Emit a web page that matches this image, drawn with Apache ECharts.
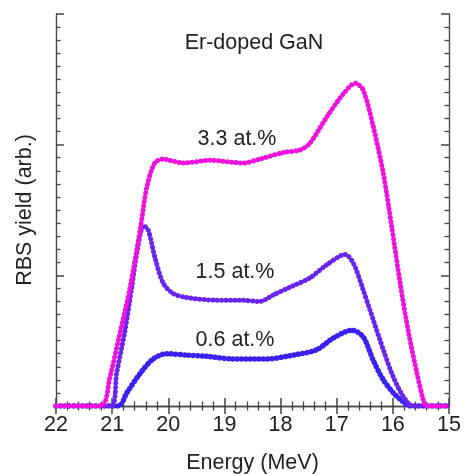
<!DOCTYPE html>
<html>
<head>
<meta charset="utf-8">
<script src="https://cdn.jsdelivr.net/npm/echarts@6/dist/echarts.min.js"></script>
<style>
  html, body { margin: 0; padding: 0; background: #fff; }
  #chart { width: 466px; height: 474px; }
</style>
</head>
<body>
<div id="chart"></div>
<script>
  // energy (MeV) / yield (arb.)
  const energy33 = [22, 21.2, 21.04, 20.86, 20.68, 20.5, 20.38, 20.24, 20.09, 19.97, 19.73, 19.26, 18.66, 18.37, 17.95, 17.65, 17.48, 17.18, 16.88, 16.67, 16.53, 16.35, 16.17, 16.02, 15.87, 15.72, 15.57, 15.46, 15.4, 15]
  const yield33 = [0, 0, 0.22, 0.56, 0.91, 1.35, 1.68, 1.86, 1.89, 1.88, 1.86, 1.88, 1.86, 1.89, 1.94, 1.96, 2.01, 2.21, 2.39, 2.47, 2.42, 2.14, 1.78, 1.37, 0.94, 0.56, 0.25, 0.05, 0, 0]

  const energy15 = [22, 21.02, 20.92, 20.77, 20.65, 20.56, 20.44, 20.36, 20.24, 20.09, 19.91, 19.67, 19.14, 18.72, 18.37, 18.13, 17.83, 17.48, 17.18, 16.85, 16.7, 16.53, 16.35, 16.17, 15.99, 15.81, 15.64, 15]
  const yield15 = [0, 0, 0.25, 0.58, 0.91, 1.17, 1.38, 1.35, 1.14, 0.94, 0.86, 0.83, 0.81, 0.81, 0.8, 0.85, 0.91, 0.98, 1.08, 1.16, 1.09, 0.89, 0.66, 0.43, 0.22, 0.07, 0, 0]

  const energy06 = [22, 20.89, 20.74, 20.5, 20.27, 20.03, 19.67, 19.32, 18.84, 18.25, 17.77, 17.36, 17.06, 16.73, 16.53, 16.35, 16.17, 15.99, 15.81, 15.7, 15]
  const yield06 = [0, 0, 0.1, 0.25, 0.36, 0.4, 0.39, 0.38, 0.36, 0.36, 0.39, 0.43, 0.52, 0.58, 0.53, 0.35, 0.2, 0.1, 0.03, 0, 0]

  const xTicks = [22, 21, 20, 19, 18, 17, 16, 15]

  const chart = echarts.init(document.getElementById('chart'))

  const pair = (xs, ys) => xs.map((x, i) => [x, ys[i]])

  const font = 'Liberation Sans'
  const frame = { lineStyle: { color: '#4a4a4a', width: 1.4 } }
  const tick = { show: true, inside: true, length: 8, lineStyle: { color: '#444', width: 1.5 } }
  const minor = { show: true, length: 4.5, lineStyle: { color: '#444', width: 1.3 } }

  // dense round dots along the curve
  function dotted(color, width) {
    return {
      color: color,
      width: width,
      type: [0.1, 4.3],
      cap: 'round'
    }
  }

  var option = {
    animation: false,
    grid: { left: 56, right: 17, top: 14, bottom: 68, outerBoundsMode: 'none', containLabel: false },
    xAxis: [{
      type: 'value',
      min: 15,
      max: 22,
      interval: 1,
      inverse: true,
      name: 'Energy (MeV)',
      nameLocation: 'middle',
      nameGap: 46,
      nameTextStyle: { fontFamily: font, fontSize: 21.5, color: '#222' },
      axisLine: frame,
      axisTick: tick,
      minorTick: Object.assign({ splitNumber: 5 }, minor),
      splitLine: { show: false },
      axisLabel: {
        fontFamily: font, fontSize: 21.5, color: '#222', margin: 8,
        formatter: v => xTicks.includes(v) ? String(v) : ''
      }
    }, {
      type: 'value',
      position: 'top',
      min: 15,
      max: 22,
      interval: 1,
      inverse: true,
      axisLine: frame,
      axisTick: tick,
      minorTick: Object.assign({ splitNumber: 5 }, minor),
      splitLine: { show: false },
      axisLabel: { show: false }
    }],
    yAxis: [{
      type: 'value',
      min: 0,
      max: 3,
      interval: 1,
      name: 'RBS yield (arb.)',
      nameLocation: 'middle',
      nameGap: 20,
      nameTextStyle: { fontFamily: font, fontSize: 21.5, color: '#222' },
      axisLine: frame,
      axisTick: tick,
      minorTick: Object.assign({ splitNumber: 10 }, minor),
      splitLine: { show: false },
      axisLabel: { show: false }
    }, {
      type: 'value',
      position: 'right',
      min: 0,
      max: 3,
      interval: 1,
      axisLine: frame,
      axisTick: tick,
      minorTick: Object.assign({ splitNumber: 10 }, minor),
      splitLine: { show: false },
      axisLabel: { show: false }
    }],
    series: [{
      name: '0.6 at.%',
      type: 'line',
      data: pair(energy06, yield06),
      smooth: 0.3,
      showSymbol: false,
      lineStyle: dotted('#3b20f2', 5.5)
    }, {
      name: '1.5 at.%',
      type: 'line',
      data: pair(energy15, yield15),
      smooth: 0.3,
      showSymbol: false,
      lineStyle: dotted('#6a24f0', 5)
    }, {
      name: '3.3 at.%',
      type: 'line',
      data: pair(energy33, yield33),
      smooth: 0.3,
      showSymbol: false,
      lineStyle: dotted('#ee12dc', 5)
    }],
    graphic: [{
      type: 'text', x: 254, y: 43,
      style: { text: 'Er-doped GaN', font: '21.5px "Liberation Sans"', fill: '#222', align: 'center', verticalAlign: 'middle' }
    }, {
      type: 'text', x: 237, y: 139,
      style: { text: '3.3 at.%', font: '21.5px "Liberation Sans"', fill: '#222', align: 'center', verticalAlign: 'middle' }
    }, {
      type: 'text', x: 235, y: 272,
      style: { text: '1.5 at.%', font: '21.5px "Liberation Sans"', fill: '#222', align: 'center', verticalAlign: 'middle' }
    }, {
      type: 'text', x: 235, y: 340,
      style: { text: '0.6 at.%', font: '21.5px "Liberation Sans"', fill: '#222', align: 'center', verticalAlign: 'middle' }
    }]
  }

  chart.setOption(option)
</script>
</body>
</html>
